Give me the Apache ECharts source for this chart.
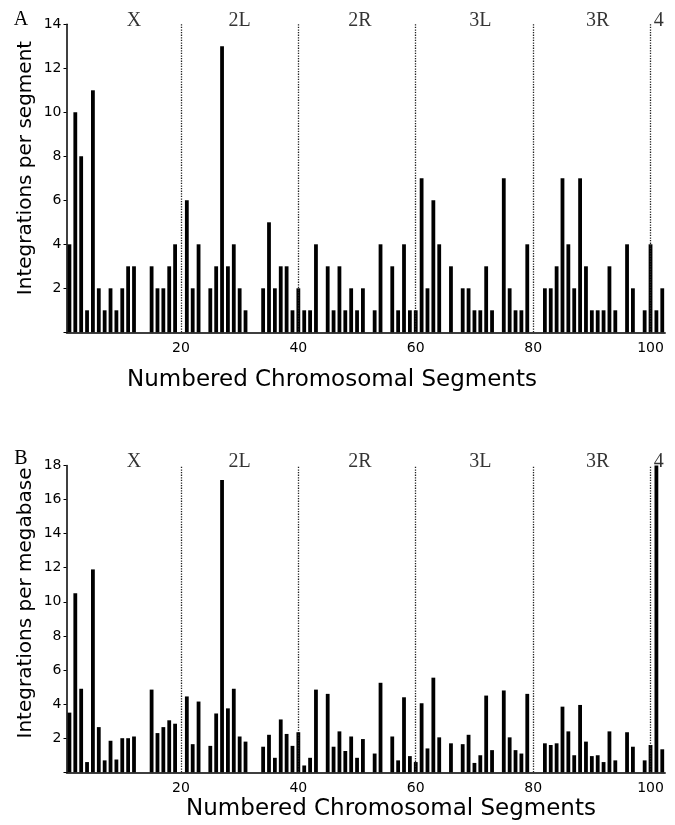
<!DOCTYPE html>
<html>
<head>
<meta charset="utf-8">
<script src="https://cdn.jsdelivr.net/npm/echarts@6/dist/echarts.min.js"></script>
<style>
  html, body { margin: 0; padding: 0; background: #fff; }
  #chart { width: 675px; height: 825px; }
</style>
</head>
<body>
<div id="chart"></div>
<script>
// integrations per numbered segment (segment number = index + 1, 1..102)
const perSegment = [
  4, 10, 8, 1, 11, 2, 1, 2, 1, 2, 3, 3, 0, 0, 3, 2, 2, 3, 4, 0,
  6, 2, 4, 0, 2, 3, 13, 3, 4, 2, 1, 0, 0, 2, 5, 2, 3, 3, 1, 2,
  1, 1, 4, 0, 3, 1, 3, 1, 2, 1, 2, 0, 1, 4, 0, 3, 1, 4, 1, 1,
  7, 2, 6, 4, 0, 3, 0, 2, 2, 1, 1, 3, 1, 0, 7, 2, 1, 1, 4, 0,
  0, 2, 2, 3, 7, 4, 2, 7, 3, 1, 1, 1, 3, 1, 0, 4, 2, 0, 1, 4,
  1, 2
];

// integrations per megabase
const perMegabase = [
  3.5, 10.5, 4.9, 0.6, 11.9, 2.65, 0.7, 1.85, 0.75, 2.0, 2.0, 2.1, 0, 0, 4.85, 2.3, 2.65, 3.05, 2.85, 0,
  4.45, 1.65, 4.15, 0, 1.55, 3.45, 17.15, 3.75, 4.9, 2.1, 1.8, 0, 0, 1.5, 2.2, 0.85, 3.1, 2.25, 1.55, 2.35,
  0.4, 0.85, 4.85, 0, 4.6, 1.5, 2.4, 1.25, 2.1, 0.85, 1.95, 0, 1.1, 5.25, 0, 2.1, 0.7, 4.4, 0.95, 0.6,
  4.05, 1.4, 5.55, 2.05, 0, 1.7, 0, 1.65, 2.2, 0.55, 1.0, 4.5, 1.3, 0, 4.8, 2.05, 1.3, 1.1, 4.6, 0,
  0, 1.7, 1.6, 1.7, 3.85, 2.4, 1.0, 3.95, 1.8, 0.95, 1.0, 0.6, 2.4, 0.7, 0, 2.35, 1.5, 0, 0.7, 1.6,
  18.0, 1.35
];

const armNames = ['X', '2L', '2R', '3L', '3R', '4'];
const armLabelAt = [12, 30, 50.5, 71, 91, 101.4];
const armBounds = [20, 40, 60, 80, 100];
const xTicks = [20, 40, 60, 80, 100];

const sans = 'DejaVu Sans';
const serif = 'Liberation Serif';

const chart = echarts.init(document.getElementById('chart'));

function xAxisFor(gridIndex) {
  return {
    type: 'value',
    gridIndex: gridIndex,
    min: 0.5,
    max: 102.5,
    splitLine: { show: false },
    axisTick: { show: false },
    axisLine: { lineStyle: { color: '#000', width: 1.5 } },
    axisLabel: {
      customValues: xTicks,
      color: '#000',
      fontFamily: sans,
      fontSize: 14,
      margin: 9
    }
  };
}

function yAxisFor(gridIndex, max) {
  return {
    type: 'value',
    gridIndex: gridIndex,
    min: 0,
    max: max,
    interval: 2,
    splitLine: { show: false },
    axisLine: { show: true, lineStyle: { color: '#000', width: 1.5 } },
    axisTick: { show: true, length: 3, lineStyle: { color: '#000' } },
    axisLabel: {
      color: '#000',
      fontFamily: sans,
      fontSize: 14,
      margin: 5,
      formatter: v => (v === 0 ? '' : v)
    }
  };
}

function barSeries(idx, values) {
  return {
    type: 'bar',
    xAxisIndex: idx,
    yAxisIndex: idx,
    barWidth: 3.8,
    itemStyle: { color: '#000' },
    data: values.map((v, i) => [i + 1, v]),
    markLine: {
      silent: true,
      symbol: 'none',
      label: { show: false },
      lineStyle: { type: 'dotted', color: '#222', width: 1.3 },
      data: armBounds.map(b => ({ xAxis: b }))
    }
  };
}

function armLabels(idx, top) {
  return {
    type: 'scatter',
    xAxisIndex: idx,
    yAxisIndex: idx,
    symbolSize: 0,
    silent: true,
    label: {
      show: true,
      position: 'inside',
      offset: [0, -4],
      formatter: p => armNames[p.dataIndex],
      color: '#000',
      fontFamily: serif,
      fontSize: 20
    },
    data: armLabelAt.map(x => [x, top])
  };
}

const option = {
  animation: false,
  backgroundColor: '#fff',
  grid: [
    { left: 66.5, top: 24.3, width: 598.7, height: 308 },
    { left: 66.5, top: 465.4, width: 598.7, height: 306.9 }
  ],
  xAxis: [xAxisFor(0), xAxisFor(1)],
  yAxis: [yAxisFor(0, 14), yAxisFor(1, 18)],
  series: [
    barSeries(0, perSegment),
    barSeries(1, perMegabase),
    armLabels(0, 14),
    armLabels(1, 18)
  ],
  graphic: [
    { type: 'text', x: 21, y: 20, style: { text: 'A', font: '20px "' + serif + '"', fill: '#000', textAlign: 'center', textVerticalAlign: 'middle' } },
    { type: 'text', x: 21, y: 459, style: { text: 'B', font: '20px "' + serif + '"', fill: '#000', textAlign: 'center', textVerticalAlign: 'middle' } },
    { type: 'text', x: 26, y: 168, rotation: Math.PI / 2, style: { text: 'Integrations per segment', font: '20px "' + sans + '"', fill: '#000', textAlign: 'center', textVerticalAlign: 'middle' } },
    { type: 'text', x: 26, y: 603, rotation: Math.PI / 2, style: { text: 'Integrations per megabase', font: '20px "' + sans + '"', fill: '#000', textAlign: 'center', textVerticalAlign: 'middle' } },
    { type: 'text', x: 332, y: 380, style: { text: 'Numbered Chromosomal Segments', font: '23px "' + sans + '"', fill: '#000', textAlign: 'center', textVerticalAlign: 'middle' } },
    { type: 'text', x: 391, y: 809, style: { text: 'Numbered Chromosomal Segments', font: '23px "' + sans + '"', fill: '#000', textAlign: 'center', textVerticalAlign: 'middle' } }
  ]
};

chart.setOption(option);
</script>
</body>
</html>
